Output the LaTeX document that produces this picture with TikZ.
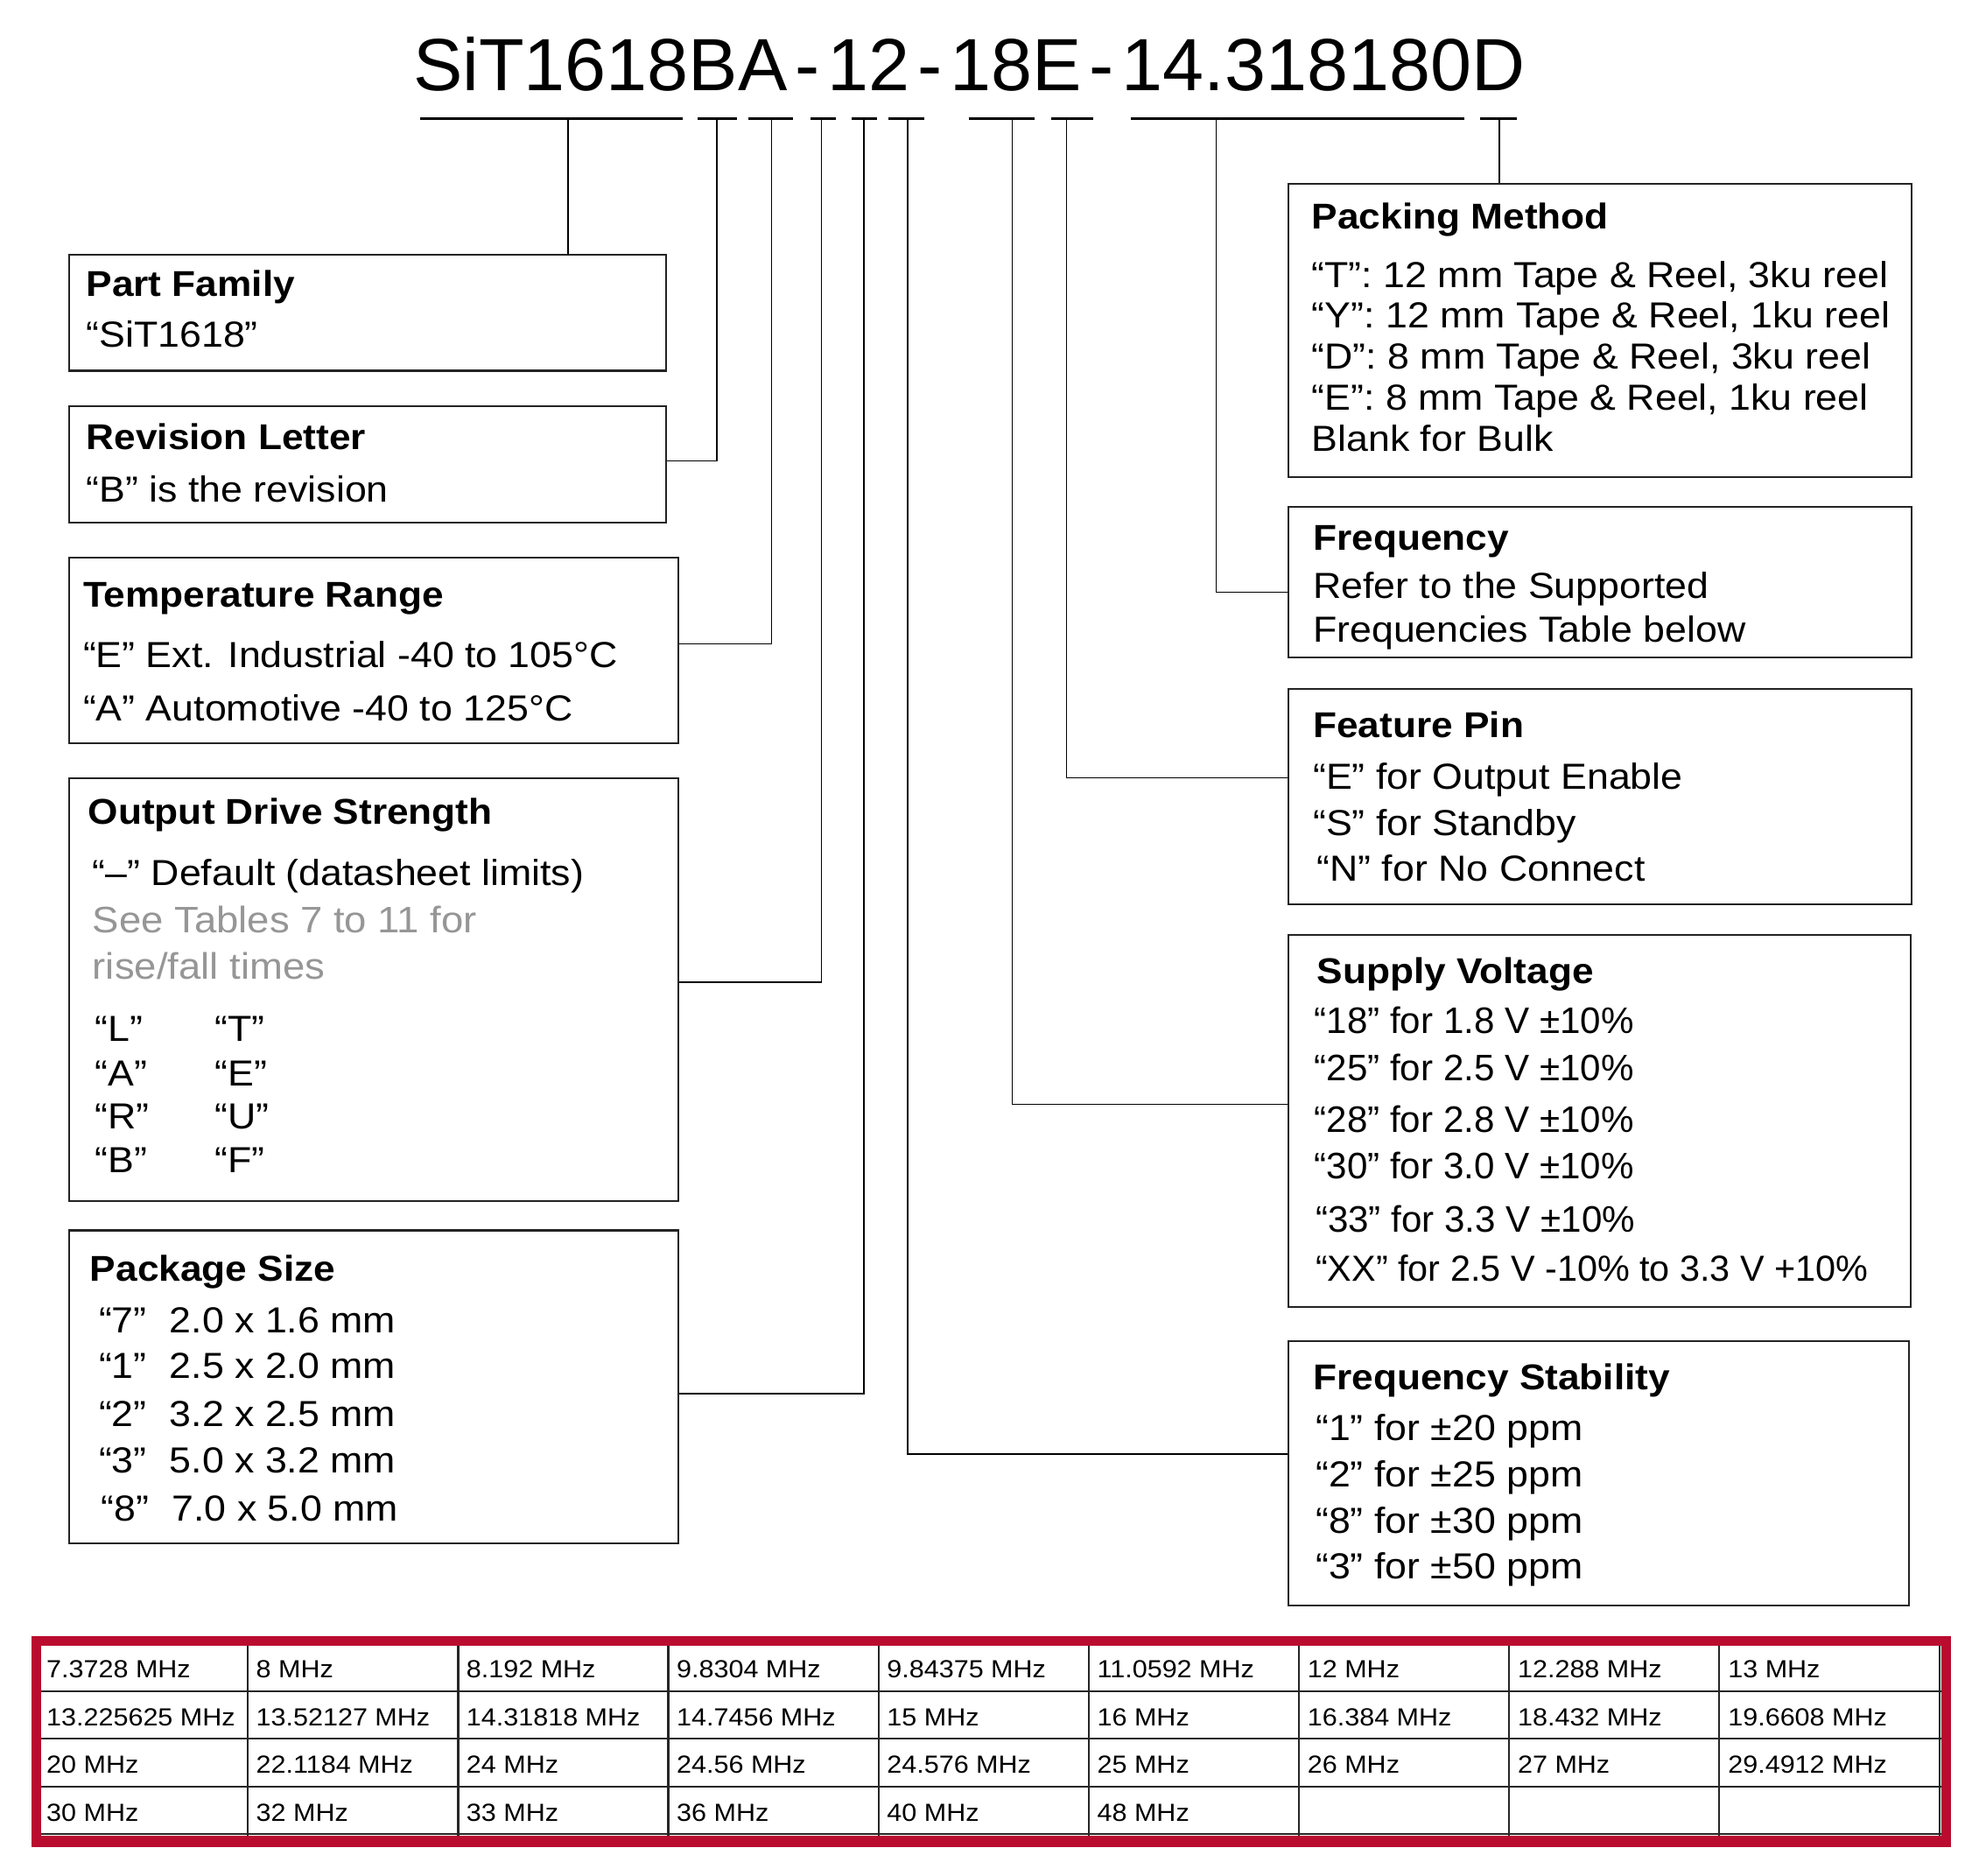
\documentclass[tikz,border=0pt]{standalone}
\usepackage{fontspec}
\setmainfont{Liberation Sans}[FakeStretch=1.08]
\newfontfamily\titlefont{Liberation Sans}
\definecolor{tblred}{RGB}{186,12,47}
\definecolor{txtgray}{RGB}{150,150,150}
\definecolor{boxline}{RGB}{35,35,35}
\tikzset{
  box/.style={draw=boxline, line width=0.7pt, anchor=north west, inner sep=0pt},
  conn/.style={draw=black, line width=0.5pt},
  uline/.style={draw=black, line width=0.9pt},
  hd/.style={anchor=base west, inner sep=0pt, font=\fontsize{14.2}{17}\selectfont\bfseries},
  bd/.style={anchor=base west, inner sep=0pt, font=\fontsize{14.35}{17}\selectfont},
  sv/.style={anchor=base west, inner sep=0pt, font=\titlefont\fontsize{14.6}{17}\selectfont},
  gr/.style={anchor=base west, inner sep=0pt, font=\fontsize{14.6}{17}\selectfont, text=txtgray},
  cell/.style={anchor=base west, inner sep=0pt, font=\fontsize{9.8}{12}\selectfont},
  tline/.style={draw=black!85, line width=0.75pt},
}
\begin{document}
\begin{tikzpicture}[x=0.5pt,y=-0.5pt]
\useasboundingbox (0,0) rectangle (1568,1486);

% ---------- title ----------
\node[anchor=base west, inner sep=0pt, font=\titlefont\fontsize{29.3}{34}\selectfont] (title) at (327,72)
  {SiT1618BA\hspace{3.1pt}-\hspace{3.1pt}12\hspace{3.1pt}-\hspace{3.1pt}18E\hspace{3.1pt}-\hspace{3.1pt}14.318180D};

% underline segments and tap points
\draw[uline] (333,94) -- (541,94);
\draw[uline] (553,94) -- (584,94);
\draw[uline] (593,94) -- (628,94);
\draw[uline] (642,94) -- (662,94);
\draw[uline] (675,94) -- (695,94);
\draw[uline] (704,94) -- (732,94);
\draw[uline] (768,94) -- (820,94);
\draw[uline] (833,94) -- (866,94);
\draw[uline] (896,94) -- (1160,94);
\draw[uline] (1173,94) -- (1202,94);
\coordinate (tP) at (450,94);
\coordinate (tB) at (568,94);
\coordinate (tA) at (611.5,94);
\coordinate (tD) at (651,94);
\coordinate (tK) at (684.5,94);
\coordinate (tS) at (719,94);
\coordinate (tV) at (802,94);
\coordinate (tE) at (845,94);
\coordinate (tF) at (963.5,94);
\coordinate (tM) at (1188,94);

% ---------- left boxes ----------
\node[box, minimum width=236.5pt, minimum height=46pt] (pf) at (54,201) {};
\node[box, minimum width=236.5pt, minimum height=46pt] (rev) at (54,321) {};
\node[box, minimum width=241.5pt, minimum height=73.5pt] (temp) at (54,441) {};
\node[box, minimum width=241.5pt, minimum height=167.5pt] (ods) at (54,616) {};
\node[box, minimum width=241.5pt, minimum height=124pt] (pkg) at (54,974) {};

% ---------- right boxes ----------
\node[box, minimum width=247pt, minimum height=116pt] (pack) at (1020,145) {};
\node[box, minimum width=247pt, minimum height=59.5pt] (freq) at (1020,401) {};
\node[box, minimum width=247pt, minimum height=85.5pt] (feat) at (1020,545) {};
\node[box, minimum width=246.5pt, minimum height=147.5pt] (sup) at (1020,740) {};
\node[box, minimum width=246pt, minimum height=104.5pt] (stab) at (1020,1062) {};

% ---------- connectors ----------
\draw[conn] (tP) -- (tP |- pf.north);
\draw[conn] (tB) |- (rev.east |- 0,365);
\draw[conn] (tA) |- (temp.east |- 0,510);
\draw[conn] (tD) |- (ods.east |- 0,778);
\draw[conn] (tK) |- (pkg.east |- 0,1104);
\draw[conn] (tS) |- (stab.west |- 0,1152);
\draw[conn] (tV) |- (sup.west |- 0,875);
\draw[conn] (tE) |- (feat.west |- 0,616);
\draw[conn] (tF) |- (freq.west |- 0,469);
\draw[conn] (tM) -- (tM |- pack.north);

% ---------- left box texts ----------
\node[hd] (pf1) at (68,234.6) {Part Family};
\node[bd] (pf2) at (68,275) {“SiT1618”};

\node[hd] (rv1) at (68,356) {Revision Letter};
\node[bd] (rv2) at (68,397.5) {“B” is the revision};

\node[hd] (tr1) at (65.5,481) {Temperature Range};
\node[bd] (tr2) at (65.5,529) {“E” Ext. Industrial -40 to 105°C};
\node[bd] (tr3) at (65.5,571) {“A” Automotive -40 to 125°C};

\node[hd] (od1) at (69.5,653) {Output Drive Strength};
\node[bd] (od2) at (73,701.5) {“–” Default (datasheet limits)};
\node[gr] (od3) at (73,739) {See Tables 7 to 11 for};
\node[gr] (od4) at (73,776) {rise/fall times};
\node[bd] (odL) at (75,825) {“L”};
\node[bd] (odA) at (75,860) {“A”};
\node[bd] (odR) at (75,894) {“R”};
\node[bd] (odB) at (75,929) {“B”};
\node[bd] (odT) at (170,825) {“T”};
\node[bd] (odE) at (170,860) {“E”};
\node[bd] (odU) at (170,894) {“U”};
\node[bd] (odF) at (170,929) {“F”};

\node[hd] (ps1) at (71,1015) {Package Size};
\node[bd] (ps2a) at (78,1056) {“7”};
\node[bd] (ps2b) at (134,1056) {2.0 x 1.6 mm};
\node[bd] (ps3a) at (78,1092) {“1”};
\node[bd] (ps3b) at (134,1092) {2.5 x 2.0 mm};
\node[bd] (ps4a) at (78,1130) {“2”};
\node[bd] (ps4b) at (134,1130) {3.2 x 2.5 mm};
\node[bd] (ps5a) at (78,1167) {“3”};
\node[bd] (ps5b) at (134,1167) {5.0 x 3.2 mm};
\node[bd] (ps6a) at (80,1205) {“8”};
\node[bd] (ps6b) at (136,1205) {7.0 x 5.0 mm};

% ---------- right box texts ----------
\node[hd] (pm1) at (1039,181.5) {Packing Method};
\node[bd] (pm2) at (1039,227.5) {“T”: 12 mm Tape \& Reel, 3ku reel};
\node[bd] (pm3) at (1039,259.5) {“Y”: 12 mm Tape \& Reel, 1ku reel};
\node[bd] (pm4) at (1039,292.5) {“D”: 8 mm Tape \& Reel, 3ku reel};
\node[bd] (pm5) at (1039,325) {“E”: 8 mm Tape \& Reel, 1ku reel};
\node[bd] (pm6) at (1039,357.5) {Blank for Bulk};

\node[hd] (fr1) at (1040,436) {Frequency};
\node[bd] (fr2) at (1040,474) {Refer to the Supported};
\node[bd] (fr3) at (1040,509) {Frequencies Table below};

\node[hd] (fp1) at (1040,584) {Feature Pin};
\node[bd] (fp2) at (1040,625) {“E” for Output Enable};
\node[bd] (fp3) at (1040,662) {“S” for Standby};
\node[bd] (fp4) at (1043,698) {“N” for No Connect};

\node[hd] (sv1) at (1043,779) {Supply Voltage};
\node[sv] (sv2) at (1041,819) {“18” for 1.8 V ±10\%};
\node[sv] (sv3) at (1041,856) {“25” for 2.5 V ±10\%};
\node[sv] (sv4) at (1041,897) {“28” for 2.8 V ±10\%};
\node[sv] (sv5) at (1041,934) {“30” for 3.0 V ±10\%};
\node[sv] (sv6) at (1042,976) {“33” for 3.3 V ±10\%};
\node[sv, font=\titlefont\fontsize{14.35}{17}\selectfont] (sv7) at (1042,1015) {“XX” for 2.5 V -10\% to 3.3 V +10\%};

\node[hd] (fs1) at (1040,1101) {Frequency Stability};
\node[bd] (fs2) at (1042,1141) {“1” for ±20 ppm};
\node[bd] (fs3) at (1042,1178) {“2” for ±25 ppm};
\node[bd] (fs4) at (1042,1215) {“8” for ±30 ppm};
\node[bd] (fs5) at (1042,1251) {“3” for ±50 ppm};

% ---------- frequency table ----------
\fill[tblred] (25,1296) rectangle (1546,1463);
\fill[white] (32.5,1304) rectangle (1538,1454);
\foreach \yy in {1339.6,1377.5,1415.5,1453}
  \draw[tline] (32.5,\yy) -- (1538,\yy);
\foreach \xx in {196.5,363,529.5,696,862.5,1029,1195.5,1362,1537}
  \draw[tline] (\xx,1304) -- (\xx,1454);

\foreach \r/\yb/\row in {
  1/1329/{7.3728 MHz,8 MHz,8.192 MHz,9.8304 MHz,9.84375 MHz,11.0592 MHz,12 MHz,12.288 MHz,13 MHz},
  2/1367/{13.225625 MHz,13.52127 MHz,14.31818 MHz,14.7456 MHz,15 MHz,16 MHz,16.384 MHz,18.432 MHz,19.6608 MHz},
  3/1405/{20 MHz,22.1184 MHz,24 MHz,24.56 MHz,24.576 MHz,25 MHz,26 MHz,27 MHz,29.4912 MHz},
  4/1442.5/{30 MHz,32 MHz,33 MHz,36 MHz,40 MHz,48 MHz}} {
  \foreach \txt [count=\c] in \row {
    \pgfmathsetmacro{\xc}{\c==1 ? 36.5 : 36.5 + 166.6*(\c-1) - 0.5}
    \node[cell] (cell-\r-\c) at (\xc,\yb) {\txt};
  }
}
\end{tikzpicture}
\end{document}
